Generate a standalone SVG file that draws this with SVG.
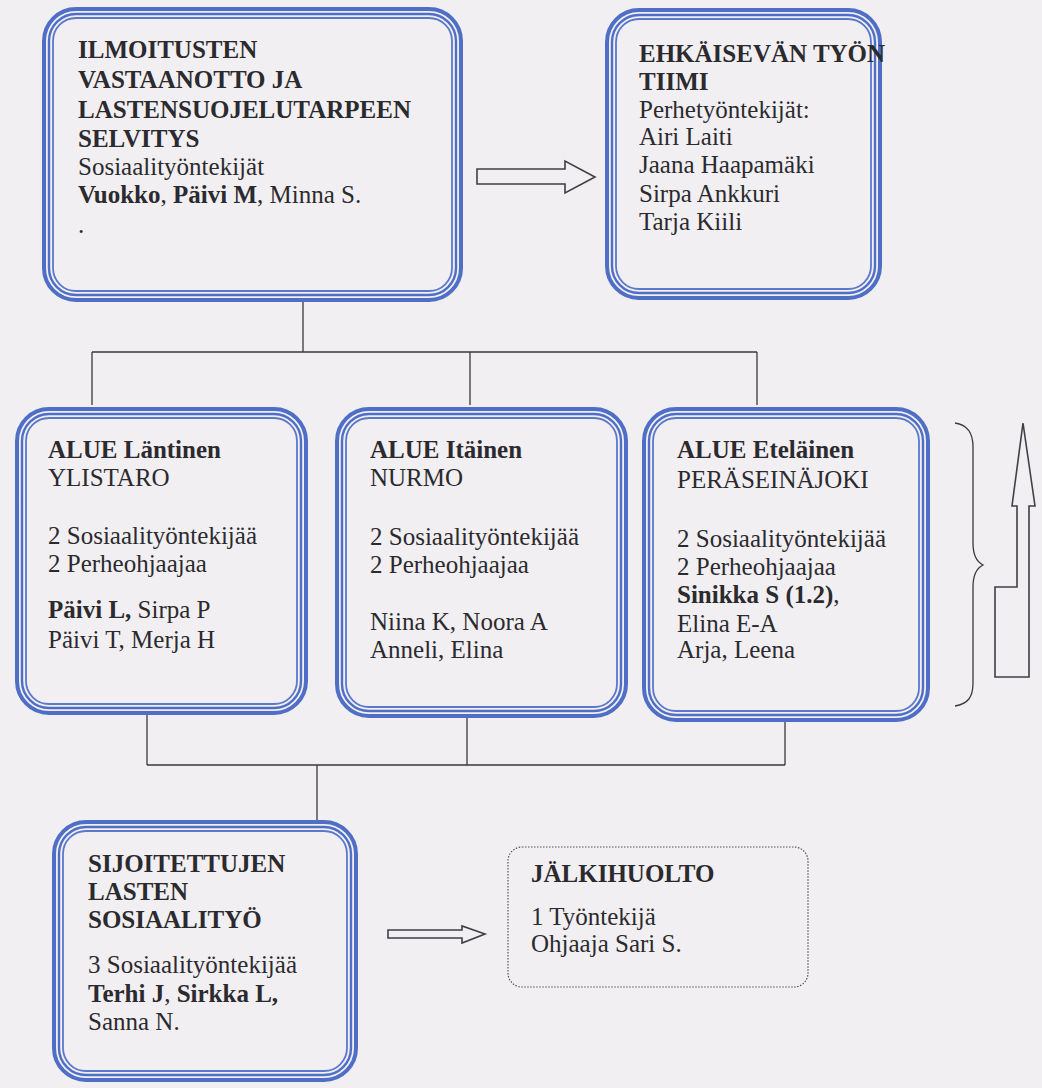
<svg xmlns="http://www.w3.org/2000/svg" width="1042" height="1088" viewBox="0 0 1042 1088">
<style>
text{font-family:"Liberation Serif","Times New Roman",serif;font-size:25px;fill:#2b2a2e}
.b{font-weight:bold}
.o{fill:none;stroke:#4f6fc7;stroke-width:4}
.m{fill:none;stroke:#4f6fc7;stroke-width:2.4}
.i{fill:none;stroke:#5a78cc;stroke-width:1.8}
.c{fill:none;stroke:#3a3a3a;stroke-width:1.3}
.ar{fill:none;stroke:#3f3f46;stroke-width:1.6;stroke-linejoin:miter}
</style>
<rect width="1042" height="1088" fill="#f1eff2"/>
<g id="connectors">
<path class="c" d="M303 302V352M92 352H757M92 352V405M470 352V405M757 352V405"/>
<path class="c" d="M147 715V765M467 718V765M785 722V765M147 765H785M317 765V822"/>
<path class="ar" d="M477 169H565V161L595 177L565 193V184H477Z"/>
<path class="ar" d="M388 930H462V926L485 934L462 943V938H388Z"/>
<path class="ar" d="M1023 423L1035 506H1029V677H995V587H1017V506H1012Z"/>
<path class="c" d="M955 423C968 425 973 433 973 447V543C973 555 977 562 983 565C977 568 973 575 973 587V683C973 697 968 704 955 706"/>
</g>
<g id="n1">
<rect class="o" x="44" y="9" width="417" height="291" rx="32"/>
<rect class="m" x="49" y="14" width="407" height="281" rx="27"/>
<rect class="i" x="53" y="18" width="399" height="273" rx="23"/>
<text x="78" y="58" class="b">ILMOITUSTEN</text>
<text x="78" y="88" class="b">VASTAANOTTO JA</text>
<text x="78" y="118" class="b">LASTENSUOJELUTARPEEN</text>
<text x="78" y="147" class="b">SELVITYS</text>
<text x="78" y="175">Sosiaalityöntekijät</text>
<text x="78" y="203"><tspan class="b">Vuokko</tspan>, <tspan class="b">Päivi M</tspan>, Minna S.</text>
<text x="78" y="233">.</text>
</g>
<g id="n2">
<rect class="o" x="607" y="10" width="273" height="288" rx="32"/>
<rect class="m" x="612" y="15" width="263" height="278" rx="27"/>
<rect class="i" x="616" y="19" width="255" height="270" rx="23"/>
<text x="639" y="62" class="b">EHKÄISEVÄN TYÖN</text>
<text x="639" y="90" class="b">TIIMI</text>
<text x="639" y="118">Perhetyöntekijät:</text>
<text x="639" y="145">Airi Laiti</text>
<text x="639" y="173">Jaana Haapamäki</text>
<text x="639" y="202">Sirpa Ankkuri</text>
<text x="639" y="230">Tarja Kiili</text>
</g>
<g id="nA">
<rect class="o" x="17" y="409" width="289" height="304" rx="32"/>
<rect class="m" x="22" y="414" width="279" height="294" rx="27"/>
<rect class="i" x="26" y="418" width="271" height="286" rx="23"/>
<text x="48" y="458" class="b">ALUE Läntinen</text>
<text x="48" y="486">YLISTARO</text>
<text x="48" y="544">2 Sosiaalityöntekijää</text>
<text x="48" y="572">2 Perheohjaajaa</text>
<text x="48" y="618"><tspan class="b">Päivi L</tspan><tspan class="b">,</tspan> Sirpa P</text>
<text x="48" y="648">Päivi T, Merja H</text>
</g>
<g id="nB">
<rect class="o" x="337" y="409" width="289" height="307" rx="32"/>
<rect class="m" x="342" y="414" width="279" height="297" rx="27"/>
<rect class="i" x="346" y="418" width="271" height="289" rx="23"/>
<text x="370" y="458" class="b">ALUE Itäinen</text>
<text x="370" y="486">NURMO</text>
<text x="370" y="545">2 Sosiaalityöntekijää</text>
<text x="370" y="573">2 Perheohjaajaa</text>
<text x="370" y="630">Niina K, Noora A</text>
<text x="370" y="658">Anneli, Elina</text>
</g>
<g id="nC">
<rect class="o" x="644" y="409" width="284" height="311" rx="32"/>
<rect class="m" x="649" y="414" width="274" height="301" rx="27"/>
<rect class="i" x="653" y="418" width="266" height="293" rx="23"/>
<text x="677" y="458" class="b">ALUE Eteläinen</text>
<text x="677" y="488">PERÄSEINÄJOKI</text>
<text x="677" y="547">2 Sosiaalityöntekijää</text>
<text x="677" y="575">2 Perheohjaajaa</text>
<text x="677" y="603"><tspan class="b">Sinikka S (1.2)</tspan>,</text>
<text x="677" y="632">Elina E-A</text>
<text x="677" y="658">Arja, Leena</text>
</g>
<g id="nS">
<rect class="o" x="54" y="822" width="302" height="258" rx="32"/>
<rect class="m" x="59" y="827" width="292" height="248" rx="27"/>
<rect class="i" x="63" y="831" width="284" height="240" rx="23"/>
<text x="88" y="872" class="b">SIJOITETTUJEN</text>
<text x="88" y="900" class="b">LASTEN</text>
<text x="88" y="928" class="b">SOSIAALITYÖ</text>
<text x="88" y="973">3 Sosiaalityöntekijää</text>
<text x="88" y="1002"><tspan class="b">Terhi J</tspan>, <tspan class="b">Sirkka L,</tspan></text>
<text x="88" y="1030">Sanna N.</text>
</g>
<g id="nJ">
<rect x="508" y="847" width="300" height="140" rx="14" fill="none" stroke="#555" stroke-width="1.2" stroke-dasharray="1.5 1.5"/>
<text x="531" y="882" class="b">JÄLKIHUOLTO</text>
<text x="531" y="925">1 Työntekijä</text>
<text x="531" y="952">Ohjaaja Sari S.</text>
</g>
</svg>
